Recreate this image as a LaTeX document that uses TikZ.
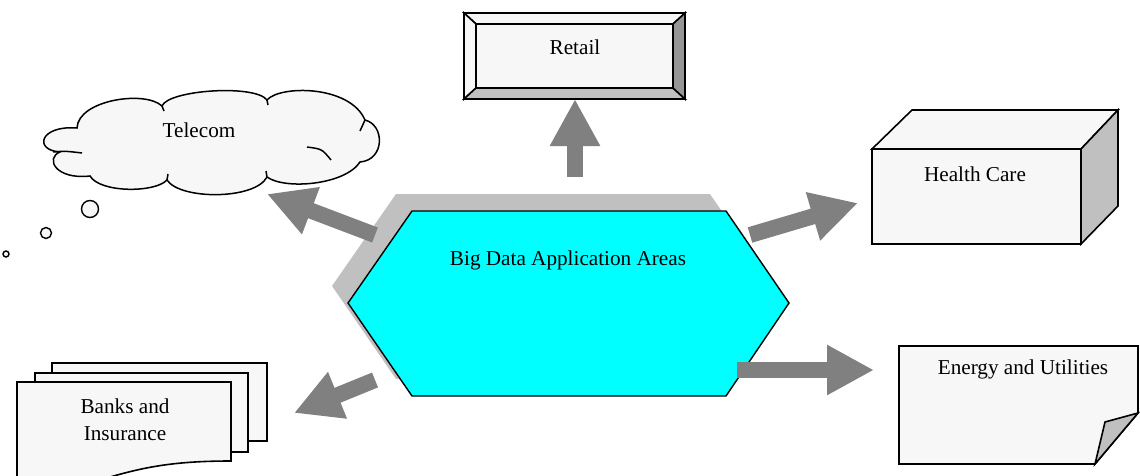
\documentclass[tikz,border=0pt]{standalone}
\usepackage{fontspec}
\setmainfont{Liberation Serif}
\usetikzlibrary{arrows.meta}
\definecolor{paper}{HTML}{F7F7F7}
\definecolor{shadowgray}{HTML}{C0C0C0}
\definecolor{bevelgray}{HTML}{969696}
\definecolor{arrowgray}{HTML}{808080}
\definecolor{hubcyan}{HTML}{00FFFF}
\tikzset{
    areatext/.style={draw=none,font=\fontsize{21.2}{27}\selectfont,inner sep=0pt,align=center},
    shapeline/.style={draw=black,line width=1.6pt,line join=miter},
    blockarrow/.style={draw=arrowgray,line width=16pt,arrows={-Triangle[length=47pt,width=47pt]}},
    bubble/.style={shapeline,fill=paper,line width=1.4pt},
    }

\begin{document}
\begin{tikzpicture}[x=1pt,y=-1pt]
    \useasboundingbox (0,0) rectangle (1140,476);

    % centre hexagon with its shadow
    \fill[shadowgray] (396,194) -- (710,194) -- (773,286) -- (710,379) -- (396,379) -- (332,286) -- cycle;
    \draw[shapeline,fill=hubcyan,line width=1.4pt] (412,211) -- (726,211) -- (789,303) -- (726,396) -- (412,396) -- (348,303) -- cycle;
    \node[areatext] (hub) at (568,260) {Big Data Application Areas};

    % retail: bevelled button
    \draw[shapeline,fill=paper] (464,13) -- (685,13) -- (673,24) -- (476,24) -- cycle;
    \draw[shapeline,fill=paper] (464,13) -- (476,24) -- (476,88) -- (464,99) -- cycle;
    \draw[shapeline,fill=shadowgray] (464,99) -- (476,88) -- (673,88) -- (685,99) -- cycle;
    \draw[shapeline,fill=bevelgray] (685,13) -- (673,24) -- (673,88) -- (685,99) -- cycle;
    \draw[shapeline,fill=paper] (476,24) rectangle (673,88);
    \node[areatext] (retail) at (575,47) {Retail};

    % telecom: cloud and bubbles
    \draw[shapeline,fill=paper,line width=1.5pt] (77,128)
        .. controls (78,100) and (145,90) .. (162,106)
        .. controls (168,90) and (255,84) .. (267,100)
        .. controls (280,85) and (350,85) .. (365,120)
        .. controls (385,125) and (385,160) .. (360,162)
        .. controls (345,185) and (285,190) .. (267,177)
        .. controls (255,200) and (180,200) .. (167,180)
        .. controls (155,193) and (100,193) .. (90,176)
        .. controls (55,180) and (45,158) .. (60,152)
        .. controls (33,150) and (40,125) .. cycle;
    \draw[shapeline,line width=1.5pt] (53,152) .. controls (65,151) .. (82,153);
    \draw[shapeline,line width=1.5pt] (307,147) .. controls (322,149) .. (331,160);
    \draw[shapeline,line width=1.5pt] (162,106) -- (164,111);
    \draw[shapeline,line width=1.5pt] (267,100) -- (268,105);
    \draw[shapeline,line width=1.5pt] (267,177) -- (266,171);
    \draw[shapeline,line width=1.5pt] (167,180) -- (168,174);
    \draw[shapeline,line width=1.5pt] (365,120) -- (360,131);
    \node[areatext] (telecom) at (199,130) {Telecom};
    \draw[bubble] (90,209) circle (8.5);
    \draw[bubble] (46,233) circle (5.5);
    \draw[bubble] (6,254) circle (3);

    % health care: box
    \draw[shapeline,fill=paper] (872,149) -- (912,110) -- (1118,110) -- (1081,149) -- cycle;
    \draw[shapeline,fill=shadowgray] (1081,149) -- (1118,110) -- (1118,206) -- (1081,244) -- cycle;
    \draw[shapeline,fill=paper] (872,149) rectangle (1081,244);
    \node[areatext] (health) at (975,174) {Health Care};

    % energy and utilities: page with folded corner
    \draw[shapeline,fill=paper] (899,346) -- (1138,346) -- (1138,413) -- (1095,464) -- (899,464) -- cycle;
    \draw[shapeline,fill=shadowgray] (1095,464) -- (1105,422) -- (1138,413) -- cycle;
    \node[areatext] (energy) at (1023,369) {Energy and Utilities};

    % banks and insurance: stacked pages
    \draw[shapeline,fill=paper] (52,363) rectangle (267,441);
    \draw[shapeline,fill=paper] (35,373) rectangle (248,452);
    \draw[shapeline,fill=paper] (17,490) -- (17,382) -- (231,382) -- (231,461)
        .. controls (170,461) and (140,468) .. (100,480) -- (100,490) -- cycle;
    \node[areatext] (banks) at (125,420) {Banks and\\Insurance};

    % block arrows
    \coordinate (retail-tail) at (575,177);
    \coordinate (retail-tip) at (575,99);
    \coordinate (telecom-tail) at (375,235);
    \coordinate (telecom-tip) at (267,194);
    \coordinate (health-tail) at (750,235);
    \coordinate (health-tip) at (858,203);
    \coordinate (banks-tail) at (375,380);
    \coordinate (banks-tip) at (294,413);
    \coordinate (energy-tail) at (737,370);
    \coordinate (energy-tip) at (874,370);

    \draw[blockarrow] (retail-tail) to (retail-tip);
    \draw[blockarrow] (telecom-tail) to (telecom-tip);
    \draw[blockarrow] (health-tail) to (health-tip);
    \draw[blockarrow] (banks-tail) to (banks-tip);
    \draw[blockarrow] (energy-tail) to (energy-tip);
\end{tikzpicture}
\end{document}
